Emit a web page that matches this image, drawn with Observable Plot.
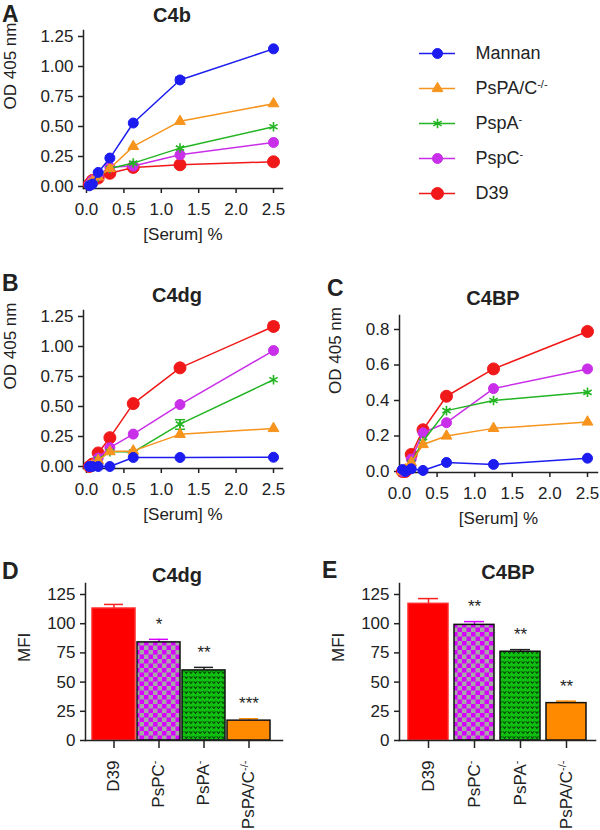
<!DOCTYPE html>
<html><head><meta charset="utf-8">
<script src="https://cdn.jsdelivr.net/npm/d3@7"></script>
<script src="https://cdn.jsdelivr.net/npm/@observablehq/plot@0.6"></script>
<style>
body{margin:0;background:#fff;font-family:"Liberation Sans",Arial,sans-serif;color:#222}
#fig{position:relative;width:600px;height:830px;overflow:hidden;background:#fff}
.abs{position:absolute}
.letter{position:absolute;font-weight:bold;font-size:23px;line-height:1;transform:translate(0,-50%)}
.title{position:absolute;font-weight:bold;font-size:20px;line-height:1;transform:translate(-50%,-50%);white-space:nowrap}
</style></head>
<body>
<svg width="0" height="0" style="position:absolute"><defs>
<pattern id="checker" width="9" height="9" patternUnits="userSpaceOnUse">
<rect width="9" height="9" fill="#a8a8a8"/><rect width="4.5" height="4.5" fill="#d600ff"/><rect x="4.5" y="4.5" width="4.5" height="4.5" fill="#d600ff"/>
</pattern>
<pattern id="vees" width="4.6" height="5" patternUnits="userSpaceOnUse">
<rect width="4.6" height="5" fill="#10c010"/><path d="M0.9,1.4 L2.3,3.6 L3.7,1.4" fill="none" stroke="#000" stroke-width="0.9"/>
</pattern>
</defs></svg>
<div id="fig"></div>
<script>
// ---------- data ----------
const serum = [0.039, 0.078, 0.156, 0.3125, 0.625, 1.25, 2.5];
const strains = ["Mannan", "PsPA/C", "PspA", "PspC", "D39"];
const xTicks = [0, 0.5, 1, 1.5, 2, 2.5];

// Panel A: C4b
const c4bMannan = [0.006, 0.02, 0.117, 0.237, 0.529, 0.888, 1.147];
const c4bPsPAC  = [0.02, 0.04, 0.08, 0.15, 0.334, 0.543, 0.69];
const c4bPspA   = [0.02, 0.04, 0.08, 0.15, 0.195, 0.32, 0.498];
const c4bPspC   = [0.02, 0.05, 0.09, 0.16, 0.17, 0.264, 0.367];
const c4bD39    = [0.02, 0.05, 0.07, 0.11, 0.159, 0.181, 0.206];
// Panel B: C4dg
const c4dgMannan = [0, 0, 0, 0, 0.075, 0.075, 0.077];
const c4dgPsPAC  = [0, 0.01, 0.05, 0.124, 0.13, 0.268, 0.317];
const c4dgPspA   = [0, 0.01, 0.06, 0.124, 0.12, 0.353, 0.723];
const c4dgPspC   = [0, 0.01, 0.07, 0.157, 0.27, 0.516, 0.966];
const c4dgD39    = [0, 0.02, 0.113, 0.24, 0.524, 0.822, 1.167];
// Panel C: C4BP
const c4bpMannan = [0.011, 0, 0.015, 0.006, 0.051, 0.04, 0.075];
const c4bpPsPAC  = [0, 0.01, 0.05, 0.152, 0.2, 0.243, 0.279];
const c4bpPspA   = [0, 0.01, 0.05, 0.17, 0.343, 0.4, 0.446];
const c4bpPspC   = [0, 0, 0.07, 0.218, 0.275, 0.467, 0.578];
const c4bpD39    = [0, 0, 0.096, 0.235, 0.424, 0.578, 0.789];
// error bars on line panels
const errA = [{strain: "Mannan", x: 1.25, lo: 0.87, hi: 0.91}];
const errB = [{strain: "D39", x: 2.5, lo: 1.14, hi: 1.2}, {strain: "PspA", x: 1.25, lo: 0.31, hi: 0.39}];

// Panels D, E: MFI bars
const barStrains = ["D39", "PsPC", "PsPA", "PsPA/C"];
const c4dgMFI = [113, 84, 60, 17];
const c4dgSEM = [3.5, 2.6, 2.6, 1.6];
const c4dgSig = ["", "*", "**", "***"];
const c4bpMFI = [117, 99, 76, 32];
const c4bpSEM = [4.5, 2.8, 1.8, 1.7];
const c4bpSig = ["", "**", "**", "**"];

// ---------- styles ----------
const FONT = '"Liberation Sans", Arial, sans-serif';
const FS = 17;
const lineColor = {"Mannan": "#1c1cf0", "PsPA/C": "#f7941d", "PspA": "#22b422", "PspC": "#c92ee8", "D39": "#f01818"};
const symbolOf = {"Mannan": "circle", "PsPA/C": "triangle", "PspA": "asterisk", "PspC": "circle", "D39": "circle"};
const rOf = {"Mannan": 5, "PsPA/C": 4, "PspA": 4.5, "PspC": 5, "D39": 6};
const drawOrder = ["D39", "PspC", "PspA", "PsPA/C", "Mannan"];
const barFill = {"D39": "#ff0000", "PsPC": "url(#checker)", "PsPA": "url(#vees)", "PsPA/C": "#ff8a00"};
const barStroke = {"D39": "#ff2a2a", "PsPC": "#111", "PsPA": "#111", "PsPA/C": "#111"};
const errColor = {"D39": "#ff2020", "PsPC": "#d600ff", "PsPA": "#222", "PsPA/C": "#ff8a00"};
const supMap = {"PsPA/C": "-/-", "PspA": "-", "PspC": "-", "PsPC": "-", "PsPA": "-"};
const cap = {draw(ctx) { ctx.moveTo(-5, 0); ctx.lineTo(5, 0); }};

const fig = document.getElementById("fig");
function place(el, left, top) {
  const d = document.createElement("div");
  d.className = "abs"; d.style.left = left + "px"; d.style.top = top + "px";
  d.appendChild(el); fig.appendChild(d);
}
function label(cls, text, x, y) {
  const d = document.createElement("div");
  d.className = cls; d.textContent = text; d.style.left = x + "px"; d.style.top = y + "px";
  fig.appendChild(d);
}
function addSups(svg) {
  svg.querySelectorAll("text").forEach(t => {
    const s = t.textContent;
    if (t.children.length === 0 && supMap[s] !== undefined) {
      const ts = document.createElementNS("http://www.w3.org/2000/svg", "tspan");
      ts.setAttribute("baseline-shift", "super");
      ts.setAttribute("font-size", "11");
      ts.textContent = supMap[s];
      t.appendChild(ts);
    }
  });
}

function linePanel(o) {
  const marks = [
    Plot.frame({anchor: "left", strokeWidth: 1.5}),
    Plot.frame({anchor: "bottom", strokeWidth: 1.5}),
    Plot.axisX({ticks: xTicks, tickFormat: d3.format(".1f"), tickSize: 5, tickPadding: 9, strokeWidth: 1.5, fontSize: FS, label: null}),
    Plot.axisY({ticks: o.yTicks, tickFormat: d3.format(o.fmt), tickSize: 5, tickPadding: 5, strokeWidth: 1.5, fontSize: FS, label: null}),
    Plot.text(["OD 405 nm"], {frameAnchor: "left", dx: o.labDx, rotate: -90, fontSize: FS, text: d => d}),
    Plot.text(["[Serum] %"], {frameAnchor: "bottom", dy: 51, fontSize: FS, text: d => d}),
    Plot.ruleX(o.errs, {x: "x", y1: "lo", y2: "hi", stroke: d => lineColor[d.strain], strokeWidth: 1.5}),
    Plot.dot(o.errs, {x: "x", y: "lo", symbol: cap, r: 5, stroke: d => lineColor[d.strain], strokeWidth: 1.5}),
    Plot.dot(o.errs, {x: "x", y: "hi", symbol: cap, r: 5, stroke: d => lineColor[d.strain], strokeWidth: 1.5})
  ];
  for (const s of drawOrder) {
    const rows = o.series[s].map((v, i) => ({strain: s, x: serum[i], y: v}));
    marks.push(Plot.line(rows, {x: "x", y: "y", stroke: lineColor[s], strokeWidth: 1.5}));
    marks.push(Plot.dot(rows, {x: "x", y: "y", r: rOf[s], symbol: symbolOf[s], fill: lineColor[s], stroke: lineColor[s], strokeWidth: symbolOf[s] === "asterisk" ? 1.6 : 1}));
  }
  const svg = Plot.plot({
    width: 300, height: 260,
    marginLeft: o.ml, marginRight: o.mr, marginTop: o.mt, marginBottom: o.mb,
    insetLeft: o.il, insetRight: o.ir, insetTop: o.it, insetBottom: o.ib,
    style: {fontFamily: FONT, fontSize: FS + "px", color: "#222", background: "transparent", overflow: "visible"},
    x: {domain: [0, 2.5]},
    y: {domain: o.yDomain},
    color: {type: "identity"},
    marks
  });
  place(svg, o.left, o.top);
}

function barPanel(o) {
  const rows = barStrains.map((s, i) => ({strain: s, mfi: o.mfi[i], top: o.mfi[i] + o.sem[i], sig: o.sig[i]}));
  const svg = Plot.plot({
    width: 300, height: 270,
    marginLeft: o.ml, marginRight: o.mr, marginTop: 23, marginBottom: 90,
    insetLeft: o.il, insetRight: o.ir, insetTop: 11, insetBottom: 0,
    style: {fontFamily: FONT, fontSize: FS + "px", color: "#222", background: "transparent", overflow: "visible"},
    x: {domain: barStrains, paddingInner: o.pi, paddingOuter: o.po},
    y: {domain: [0, 125]},
    color: {type: "identity"},
    marks: [
      Plot.ruleX(rows, {x: "strain", y1: "mfi", y2: "top", stroke: d => errColor[d.strain], strokeWidth: 1.5}),
      Plot.tickY(rows, {x: "strain", y: "top", stroke: d => errColor[d.strain], strokeWidth: 1.5, insetLeft: o.capInset, insetRight: o.capInset}),
      Plot.barY(rows, {x: "strain", y: "mfi", fill: d => barFill[d.strain], stroke: d => barStroke[d.strain], strokeWidth: 1.5}),
      Plot.text(rows, {x: "strain", y: "top", text: "sig", dy: -15, fontSize: FS}),
      Plot.frame({anchor: "left", strokeWidth: 1.5}),
      Plot.frame({anchor: "bottom", strokeWidth: 1.5}),
      Plot.axisX({tickRotate: -90, tickSize: 8, tickPadding: 12, strokeWidth: 1.5, fontSize: FS, label: null}),
      Plot.axisY({ticks: [0, 25, 50, 75, 100, 125], tickSize: 5, tickPadding: 5, strokeWidth: 1.5, fontSize: FS, label: null}),
      Plot.text(["MFI"], {frameAnchor: "left", dx: -61, rotate: -90, fontSize: FS, text: d => d})
    ]
  });
  addSups(svg);
  place(svg, o.left, o.top);
}

// Panel A
linePanel({left: 0, top: 0, ml: 83, mr: 18, mt: 30, mb: 72, il: 3, ir: 9, it: 6, ib: 2,
  yDomain: [0, 1.25], yTicks: [0, 0.25, 0.5, 0.75, 1, 1.25], fmt: ".2f", labDx: -73, errs: errA,
  series: {"Mannan": c4bMannan, "PsPA/C": c4bPsPAC, "PspA": c4bPspA, "PspC": c4bPspC, "D39": c4bD39}});
// Panel B
linePanel({left: 0, top: 280, ml: 83, mr: 18, mt: 30, mb: 72, il: 3, ir: 9, it: 6, ib: 2,
  yDomain: [0, 1.25], yTicks: [0, 0.25, 0.5, 0.75, 1, 1.25], fmt: ".2f", labDx: -73, errs: errB,
  series: {"Mannan": c4dgMannan, "PsPA/C": c4dgPsPAC, "PspA": c4dgPspA, "PspC": c4dgPspC, "D39": c4dgD39}});
// Panel C
linePanel({left: 300, top: 280, ml: 99, mr: 3, mt: 35, mb: 68, il: 0, ir: 10, it: 14, ib: 1,
  yDomain: [0, 0.8], yTicks: [0, 0.2, 0.4, 0.6, 0.8], fmt: ".1f", labDx: -64, errs: [],
  series: {"Mannan": c4bpMannan, "PsPA/C": c4bpPsPAC, "PspA": c4bpPspA, "PspC": c4bpPspC, "D39": c4bpD39}});
// Panel D
barPanel({left: 0, top: 560, ml: 85, mr: 18, il: 5, ir: 9, pi: 0.04, po: 0.02, capInset: 12,
  mfi: c4dgMFI, sem: c4dgSEM, sig: c4dgSig});
// Panel E
barPanel({left: 300, top: 560, ml: 99, mr: 5, il: 5, ir: 6, pi: 0.14, po: 0.05, capInset: 10,
  mfi: c4bpMFI, sem: c4bpSEM, sig: c4bpSig});

// Legend
{
  const marks = [];
  for (const s of strains) {
    marks.push(Plot.ruleY([s], {y: d => d, x1: 0, x2: 1, stroke: lineColor[s], strokeWidth: 1.5}));
    marks.push(Plot.dot([s], {x: () => 0.5, y: d => d, r: rOf[s], symbol: symbolOf[s], fill: lineColor[s], stroke: lineColor[s], strokeWidth: symbolOf[s] === "asterisk" ? 1.6 : 1}));
  }
  marks.push(Plot.text(strains, {x: () => 1, y: d => d, dx: 20, textAnchor: "start", fontSize: 18, text: d => d}));
  const svg = Plot.plot({
    width: 200, height: 185, marginTop: 22, marginBottom: 22, marginLeft: 19, marginRight: 145,
    style: {fontFamily: FONT, fontSize: "18px", color: "#222", background: "transparent", overflow: "visible"},
    x: {domain: [0, 1], axis: null},
    y: {type: "point", domain: strains, padding: 0, axis: null},
    marks
  });
  addSups(svg);
  place(svg, 400, 30);
}

// Panel letters and titles
label("letter", "A", 2, 14);
label("letter", "B", 2, 283);
label("letter", "C", 327, 288);
label("letter", "D", 2, 571);
label("letter", "E", 322, 570);
label("title", "C4b", 172, 15);
label("title", "C4dg", 177, 295);
label("title", "C4BP", 493, 298);
label("title", "C4dg", 177, 575);
label("title", "C4BP", 508, 572);
</script>
</body></html>
